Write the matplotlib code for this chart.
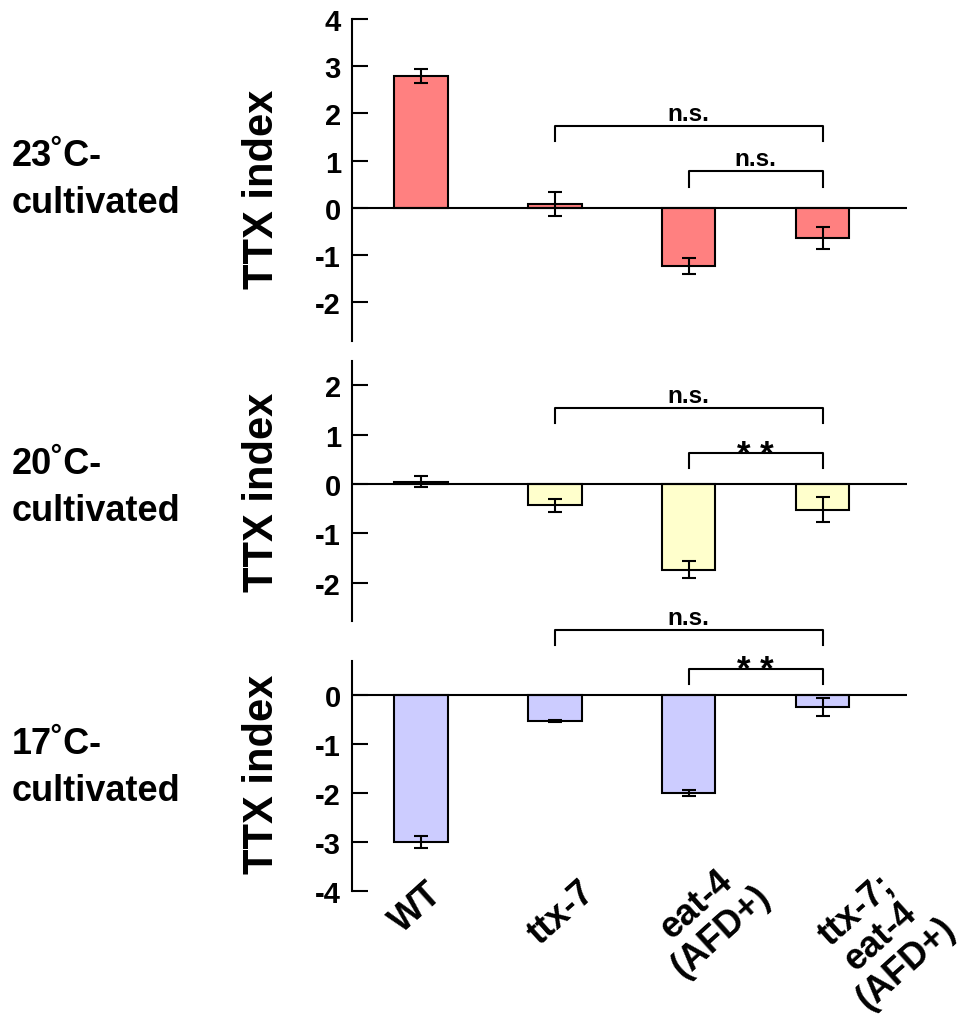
import numpy as np
import matplotlib
matplotlib.use("Agg")
import matplotlib.pyplot as plt

plt.rcParams['font.family'] = ['Liberation Sans', 'DejaVu Sans']
plt.rcParams['font.weight'] = 'bold'

# data
groups = ["WT", "ttx-7", "eat-4\n(AFD+)", "ttx-7;\neat-4\n(AFD+)"]
temps = ["23˚C-\ncultivated", "20˚C-\ncultivated", "17˚C-\ncultivated"]

ttx_23 = [2.80, 0.08, -1.24, -0.64]
sem_23 = [0.15, 0.25, 0.17, 0.24]
ttx_20 = [0.05, -0.43, -1.74, -0.52]
sem_20 = [0.12, 0.13, 0.17, 0.25]
ttx_17 = [-3.01, -0.53, -2.00, -0.24]
sem_17 = [0.12, 0.02, 0.06, 0.18]

# comparisons: (from group, to group, label)
comp_23 = [(1, 3, "n.s."), (2, 3, "n.s.")]
comp_20 = [(1, 3, "n.s."), (2, 3, "* *")]
comp_17 = [(1, 3, "n.s."), (2, 3, "* *")]
# bracket heights (top, leg end) per comparison
brk_23 = [(1.73, 1.41), (0.77, 0.44)]
brk_20 = [(1.54, 1.24), (0.62, 0.32)]
brk_17 = [(1.33, 1.03), (0.53, 0.22)]

colors = ["#FF8080", "#FFFFCC", "#CCCCFF"]
yticks = [np.arange(-2, 5), np.arange(-2, 3), np.arange(-4, 1)]
ylims = [(-2.82, 4.0), (-2.77, 2.5), (-4.0, 0.70)]

W, H = 963, 1020
fig = plt.figure(figsize=(W / 100, H / 100), dpi=100)

# axes boxes in pixels: (top, bottom)
boxes = [(20, 341.7), (361.7, 621.7), (661.7, 891.7)]
x_left, x_right = 352, 906.7
label_y = [189, 492, 774]
temp_y = [180, 488, 768]

vals = [ttx_23, ttx_20, ttx_17]
sems = [sem_23, sem_20, sem_17]
comps = [comp_23, comp_20, comp_17]
brks = [brk_23, brk_20, brk_17]

x = np.arange(len(groups))
axes = []
for k in range(3):
    top, bot = boxes[k]
    ax = fig.add_axes([x_left / W, 1 - bot / H, (x_right - x_left) / W, (bot - top) / H])
    axes.append(ax)
    ax.bar(x, vals[k], width=0.40, color=colors[k], edgecolor="black", linewidth=1.5, zorder=2)
    ax.errorbar(x, vals[k], yerr=sems[k], fmt="none", ecolor="black",
                elinewidth=1.5, capsize=5, capthick=1.5, zorder=3)
    ax.axhline(0, color="black", linewidth=1.5, zorder=4)
    ax.set_xlim(-0.514, 3.628)
    ax.set_ylim(*ylims[k])
    ax.set_yticks(yticks[k])
    ax.set_yticklabels([str(t) for t in yticks[k]], fontsize=21, fontweight="bold")
    ax.tick_params(axis="y", direction="in", length=11.5, width=1.5, pad=8)
    ax.set_xticks([])
    for s in ["top", "right", "bottom"]:
        ax.spines[s].set_visible(False)
    ax.spines["left"].set_linewidth(1.5)
    ax.patch.set_alpha(0)

    for (g0, g1, txt), (yt, yl) in zip(comps[k], brks[k]):
        ax.plot([g0, g0, g1, g1], [yl, yt, yt, yl], color="black", linewidth=1.5,
                clip_on=False, zorder=5)
        if txt == "n.s.":
            ax.annotate(txt, xy=((g0 + g1) / 2, yt), xytext=(0, 4.5), textcoords="offset points",
                        ha="center", va="baseline", fontsize=17.5, fontweight="bold",
                        annotation_clip=False)
        else:
            ax.annotate(txt, xy=((g0 + g1) / 2, yt), xytext=(0, -7.5), textcoords="offset points",
                        ha="center", va="baseline", fontsize=25, fontweight="bold",
                        annotation_clip=False)

    fig.text(262 / W, 1 - label_y[k] / H, "TTX index", rotation=90, ha="center", va="center",
             fontsize=30, fontweight="bold")
    fig.text(12 / W, 1 - temp_y[k] / H, temps[k], ha="left", va="center",
             fontsize=26, fontweight="bold", linespacing=1.45)

# rotated group labels under the bottom panel
offsets = [(-4.6, -16), (7.3, -21.6), (20, -26.8), (58.5, -45.3)]
ax = axes[2]
for i, name in enumerate(groups):
    ax.annotate(name, xy=(x[i], 0), xycoords=("data", "axes fraction"),
                xytext=offsets[i], textcoords="offset pixels",
                rotation=42, rotation_mode="anchor", ha="center", va="center",
                multialignment="center", fontsize=26, fontweight="bold",
                linespacing=1.05, annotation_clip=False)

fig.savefig("out.png", dpi=100)
